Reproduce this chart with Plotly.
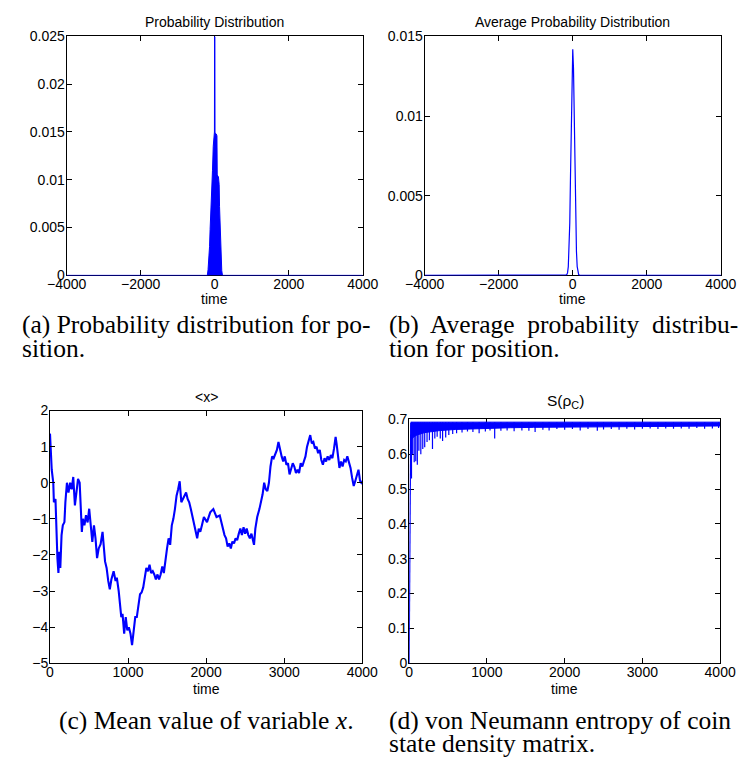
import plotly.graph_objects as go

W, H = 753, 778

# (a) single-run probability distribution envelope over position
pos_a = [-4000, -200, -180, -160, -140, -125, -110, -95, -80, -60, -40, -25, -8, -4, 4, 8,
         40, 60, 68, 100, 120, 130, 145, 155, 170, 190, 210, 4000]
prob_a = [0, 0, 0.0006, 0.0015, 0.003, 0.0048, 0.0068, 0.0075, 0.0095, 0.011, 0.0135, 0.015,
          0.015, 0.025, 0.025, 0.0149, 0.0148, 0.0146, 0.0105, 0.0103, 0.0095, 0.0072, 0.005,
          0.003, 0.0015, 0.0005, 0, 0]

# (b) averaged probability distribution over position
pos_b = [-4000, -220, -200, -180, -160, -140, -120, -100, -80, -60, -40, -20, 0,
         20, 40, 60, 80, 100, 120, 140, 160, 180, 200, 220, 4000]
prob_b = [0, 0, 0.00001, 0.00003, 0.00005, 0.00017, 0.00055, 0.0015, 0.0033, 0.0063, 0.0099,
          0.0128, 0.0142, 0.0130, 0.0099, 0.0063, 0.0034, 0.0015, 0.00055, 0.00017, 0.00005,
          0.00002, 0.00001, 0, 0]

# (c) mean position <x> versus time
time_c = [0, 12, 22, 42, 50, 70, 82, 95, 108, 120, 132, 148, 164, 185, 197, 217, 237, 258, 278,
          298, 319, 339, 359, 380, 392, 408, 421, 441, 461, 482, 502, 522, 542, 563, 583, 603,
          624, 648, 673, 705, 725, 746, 766, 786, 815, 840, 856, 880, 897, 913, 929, 950, 970,
          990, 1010, 1031, 1051, 1071, 1092, 1112, 1132, 1153, 1173, 1194, 1214, 1234, 1255,
          1275, 1295, 1316, 1336, 1356, 1377, 1397, 1417, 1438, 1458, 1478, 1499, 1519, 1539,
          1560, 1580, 1600, 1621, 1641, 1661, 1682, 1702, 1722, 1743, 1763, 1783, 1803, 1824,
          1844, 1864, 1885, 1905, 1925, 1946, 1971, 2011, 2052, 2092, 2133, 2174, 2194, 2214,
          2235, 2255, 2275, 2296, 2316, 2336, 2357, 2377, 2397, 2418, 2438, 2458, 2479, 2499,
          2519, 2540, 2560, 2580, 2601, 2613, 2630, 2654, 2682, 2702, 2723, 2743, 2763, 2784,
          2804, 2824, 2845, 2865, 2885, 2906, 2926, 2946, 2967, 2987, 3007, 3028, 3048, 3068,
          3089, 3109, 3129, 3150, 3170, 3190, 3211, 3231, 3251, 3272, 3292, 3312, 3333, 3353,
          3373, 3394, 3414, 3434, 3455, 3475, 3495, 3516, 3536, 3556, 3577, 3597, 3617, 3638,
          3658, 3670, 3686, 3707, 3727, 3747, 3768, 3788, 3808, 3829, 3849, 3869, 3890, 3910,
          3930, 3951, 3971, 3987, 4000]
mean_x = [1.36, 0.91, 0.36, 0.0, -0.54, -0.45, -1.45, -2.09, -2.5, -1.91, -2.36, -1.45, -1.18,
          -1.09, -0.54, 0.0, -0.27, 0.0, -0.18, 0.16, -0.63, -0.18, 0.11, 0.0, -0.82, -1.36,
          -1.0, -1.18, -0.9, -1.1, -0.72, -1.3, -1.64, -1.18, -1.54, -2.09, -1.82, -1.7, -1.36,
          -2.18, -2.36, -2.72, -2.95, -2.68, -2.45, -2.72, -2.63, -3.0, -3.36, -3.72, -3.63,
          -4.18, -3.72, -4.09, -4.0, -4.18, -4.5, -4.18, -3.72, -3.72, -3.36, -3.09, -3.04,
          -2.9, -2.63, -2.36, -2.45, -2.27, -2.5, -2.45, -2.54, -2.68, -2.54, -2.68, -2.54,
          -2.32, -2.5, -2.09, -1.82, -1.54, -1.72, -1.18, -1.0, -0.73, -0.36, -0.18, 0.04,
          -0.54, -0.45, -0.32, -0.27, -0.45, -0.54, -0.72, -0.91, -1.09, -1.36, -1.54, -1.27,
          -1.36, -1.18, -0.95, -1.09, -0.82, -0.73, -0.95, -0.91, -1.09, -1.23, -1.45, -1.54,
          -1.77, -1.68, -1.82, -1.63, -1.68, -1.54, -1.59, -1.41, -1.27, -1.45, -1.23, -1.41,
          -1.27, -1.45, -1.54, -1.41, -1.59, -1.72, -1.27, -0.95, -0.73, -0.54, -0.32, 0.0,
          -0.18, -0.23, 0.0, 0.45, 0.73, 0.68, 0.82, 0.91, 1.13, 0.91, 0.73, 0.59, 0.73, 0.5,
          0.54, 0.23, 0.41, 0.54, 0.45, 0.27, 0.36, 0.27, 0.54, 0.45, 0.59, 0.73, 1.0, 1.18,
          1.32, 1.09, 1.13, 0.95, 1.0, 0.82, 0.91, 0.63, 0.5, 0.68, 0.59, 0.73, 0.63, 0.77,
          0.68, 0.95, 1.27, 1.09, 0.73, 0.41, 0.59, 0.45, 0.63, 0.59, 0.73, 0.54, 0.41, 0.14,
          -0.09, 0.05, 0.23, 0.36, 0.05, 0.0, 0.05]
assert len(time_c) == len(mean_x)

# (d) coin entropy: initial rise, dense band, and downward excursions
rise_t = [0, 4, 8, 14, 20]
rise_s = [0.0, 0.25, 0.52, 0.66, 0.69]
band_t = [20, 60, 100, 200, 300, 400, 600, 800, 1000, 1300, 1600, 2000, 2500, 3000, 3500, 4000]
band_hi = [0.692, 0.692, 0.692, 0.692, 0.692, 0.692, 0.692, 0.692, 0.692, 0.692, 0.692, 0.692,
           0.692, 0.692, 0.692, 0.692]
band_lo = [0.640, 0.650, 0.655, 0.662, 0.665, 0.668, 0.671, 0.673, 0.675, 0.676, 0.677, 0.678,
           0.679, 0.680, 0.681, 0.681]
dip_t = [30, 45, 65, 85, 105, 125, 150, 175, 200, 230, 260, 300, 330, 360, 400, 430, 470, 510,
         560, 610, 680, 750, 820, 900, 980, 1040, 1100, 1180, 1260, 1350, 1450, 1540, 1620,
         1720, 1800, 1900, 2000, 2100, 2200, 2300, 2420, 2500, 2600, 2700, 2800, 2900, 3000,
         3100, 3200, 3300, 3400, 3500, 3600, 3700, 3800, 3900, 3980]
dip_s = [0.53, 0.60, 0.577, 0.58, 0.57, 0.61, 0.60, 0.615, 0.62, 0.635, 0.64, 0.615, 0.645,
         0.65, 0.645, 0.638, 0.648, 0.655, 0.658, 0.66, 0.662, 0.665, 0.664, 0.66, 0.665, 0.668,
         0.645, 0.667, 0.668, 0.666, 0.668, 0.667, 0.664, 0.67, 0.668, 0.672, 0.670, 0.672,
         0.668, 0.672, 0.667, 0.671, 0.672, 0.670, 0.673, 0.671, 0.673, 0.674, 0.672, 0.674,
         0.673, 0.674, 0.673, 0.675, 0.673, 0.674, 0.675]

BLUE = "#0000ff"
TICK_FONT = dict(family="Liberation Sans, Arial, sans-serif", size=14, color="black")

fig = go.Figure()

fig.add_trace(go.Scatter(x=pos_a, y=prob_a, mode="lines", fill="tozeroy", fillcolor=BLUE,
                         line=dict(color=BLUE, width=1), xaxis="x", yaxis="y"))
fig.add_trace(go.Scatter(x=pos_b, y=prob_b, mode="lines", line=dict(color=BLUE, width=1.2),
                         xaxis="x2", yaxis="y2"))
fig.add_trace(go.Scatter(x=time_c, y=mean_x, mode="lines", line=dict(color=BLUE, width=2.1),
                         xaxis="x3", yaxis="y3"))

# entropy band
fig.add_trace(go.Scatter(x=band_t, y=band_hi, mode="lines", line=dict(color=BLUE, width=1),
                         xaxis="x4", yaxis="y4"))
fig.add_trace(go.Scatter(x=band_t, y=band_lo, mode="lines", fill="tonexty", fillcolor=BLUE,
                         line=dict(color=BLUE, width=1), xaxis="x4", yaxis="y4"))
# downward excursions as vertical strokes from the band top
dx, dy = [], []
for t, s in zip(dip_t, dip_s):
    dx += [t, t, None]
    dy += [band_hi[0], s, None]
fig.add_trace(go.Scatter(x=dx, y=dy, mode="lines", line=dict(color=BLUE, width=1.2),
                         connectgaps=False, xaxis="x4", yaxis="y4"))
fig.add_trace(go.Scatter(x=rise_t, y=rise_s, mode="lines", line=dict(color=BLUE, width=1.2),
                         xaxis="x4", yaxis="y4"))


def axis(domain, rng, vals, texts, anchor, standoff, layer="above traces"):
    return dict(domain=domain, range=rng, tickvals=vals, ticktext=texts, anchor=anchor,
                showline=True, linecolor="black", linewidth=1, mirror="allticks",
                ticks="inside", ticklen=5, tickcolor="black", showgrid=False,
                zeroline=False, tickfont=TICK_FONT, fixedrange=True, layer=layer,
                ticklabelstandoff=standoff)


def px_x(a, b):
    return [a / W, b / W]


def px_y(top, bottom):
    return [1 - bottom / H, 1 - top / H]


xt_pos = [-4000, -2000, 0, 2000, 4000]
xt_pos_txt = ["\u22124000", "\u22122000", "0", "2000", "4000"]
xt_time = [0, 1000, 2000, 3000, 4000]
xt_time_txt = ["0", "1000", "2000", "3000", "4000"]

XS, YS = -4, -2

fig.update_layout(
    width=W, height=H, margin=dict(l=0, r=0, t=0, b=0),
    paper_bgcolor="white", plot_bgcolor="white", showlegend=False,
    xaxis=axis(px_x(49, 360), [-4000, 4000], xt_pos, xt_pos_txt, "y", XS, "below traces"),
    yaxis=axis(px_y(29, 273), [0, 0.025], [0, 0.005, 0.01, 0.015, 0.02, 0.025],
               ["0", "0.005", "0.01", "0.015", "0.02", "0.025"], "x", YS),
    xaxis2=axis(px_x(425, 736), [-4000, 4000], xt_pos, xt_pos_txt, "y2", XS, "below traces"),
    yaxis2=axis(px_y(29, 273), [0, 0.015], [0, 0.005, 0.01, 0.015],
                ["0", "0.005", "0.01", "0.015"], "x2", YS),
    xaxis3=axis(px_x(31.5, 359.5), [0, 4000], xt_time, xt_time_txt, "y3", XS),
    yaxis3=axis(px_y(411, 669), [-5, 2], [-5, -4, -3, -2, -1, 0, 1, 2],
                ["\u22125", "\u22124", "\u22123", "\u22122", "\u22121", "0", "1", "2"], "x3", YS),
    xaxis4=axis(px_x(408.7, 735.3), [0, 4000], xt_time, xt_time_txt, "y4", XS, "below traces"),
    yaxis4=axis(px_y(420, 669), [0, 0.7], [0, 0.1, 0.2, 0.3, 0.4, 0.5, 0.6, 0.7],
                ["0", "0.1", "0.2", "0.3", "0.4", "0.5", "0.6", "0.7"], "x4", YS,
                "below traces"),
)

SANS = "Liberation Sans, Arial, sans-serif"
SERIF = "Liberation Serif, Times New Roman, serif"


def note(text, x, y, size=14, family=SANS, xanchor="center"):
    fig.add_annotation(text=text, x=x / W, y=1 - y / H, xref="paper", yref="paper",
                       xanchor=xanchor, yanchor="middle", showarrow=False,
                       font=dict(family=family, size=size, color="black"))


# panel titles and axis labels
note("Probability Distribution", 204.5, 14)
note("Average Probability Distribution", 580.5, 14)
note("&lt;x&gt;", 195.5, 397)
note("S(\u03c1<sub>C</sub>)", 573, 402, 15.5)
for cx, cy in [(204.5, 297), (580.5, 297), (195.5, 695), (572, 695)]:
    note("time", cx, cy)

# sub-figure captions
CAP = 25.5
note("(a) Probability distribution for po-", 0, 323, CAP, SERIF, "left")
note("sition.", 0, 348, CAP, SERIF, "left")
note("(b)\u00a0 Average\u00a0 probability\u00a0 distribu-", 385, 323, CAP, SERIF, "left")
note("tion for position.", 385, 348, CAP, SERIF, "left")
note("(c) Mean value of variable <i>x</i>.", 196, 727, CAP, SERIF, "center")
note("(d) von Neumann entropy of coin", 385, 727, CAP, SERIF, "left")
note("state density matrix.", 385, 751, CAP, SERIF, "left")

fig.write_html("out.html")
